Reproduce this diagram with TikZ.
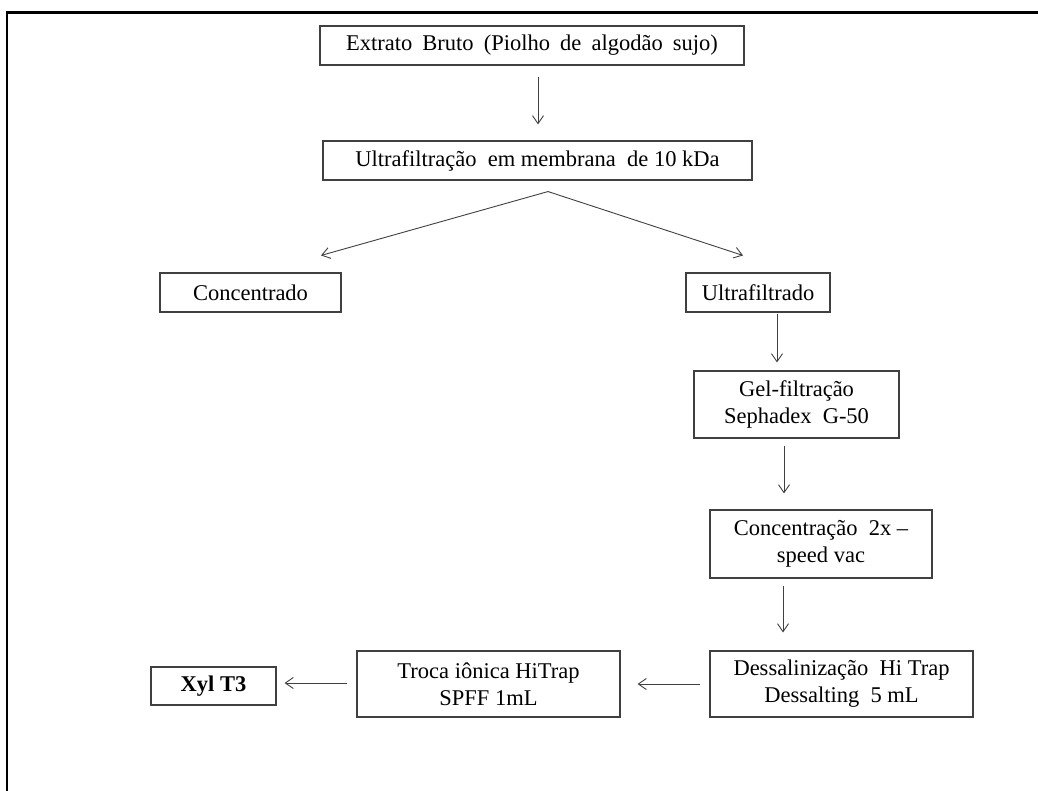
\documentclass[tikz,border=0pt]{standalone}
\usepackage{fontspec}
\setmainfont{Liberation Serif}
\usetikzlibrary{calc,arrows.meta}
\definecolor{boxgray}{HTML}{404040}
\tikzset{
  stepbox/.style={draw=boxgray, line width=1.1pt, inner sep=0pt, align=center,
    font=\fontsize{22.5}{27}\selectfont, text=black},
  arr/.style={draw=boxgray, line width=0.9pt, -{Straight Barb[length=8pt,width=11pt,line width=0.9pt]}},
}
\newcommand{\ws}{\hspace{0.45em}}
\begin{document}
\begin{tikzpicture}[x=1pt,y=-1pt]
\useasboundingbox (0,0) rectangle (1038,790);
\draw[line width=2.4pt] (7,795) -- (7,12.5) -- (1045,12.5);

\node[stepbox, minimum width=424pt, minimum height=39pt] (b1) at (532,45.5) {Extrato\ws Bruto\ws (Piolho\ws de\ws algodão\ws sujo)};
\node[stepbox, minimum width=429pt, minimum height=39pt] (b2) at (537.5,160.5) {Ultrafiltração \ em membrana \ de 10 kDa};
\node[stepbox, minimum width=181pt, minimum height=39pt] (conc) at (250.5,292.5) {Concentrado};
\node[stepbox, minimum width=144pt, minimum height=39pt] (uf) at (758,292.5) {Ultrafiltrado};
\node[stepbox, minimum width=205pt, minimum height=67pt] (gel) at (796.5,404.5) {Gel-filtração\\Sephadex \ G-50};
\node[stepbox, minimum width=222pt, minimum height=68pt] (cx) at (821,544) {Concentração \ 2x --\\speed vac};
\node[stepbox, minimum width=263pt, minimum height=66pt] (dess) at (841.5,684) {Dessalinização \ Hi Trap\\Dessalting \ 5 mL};
\node[stepbox, minimum width=263pt, minimum height=66pt] (troca) at (488.5,684) {Troca iônica HiTrap\\SPFF 1mL};
\node[stepbox, minimum width=125pt, minimum height=38pt, font=\fontsize{22.5}{27}\selectfont\bfseries] (xyl) at (213.5,686) {Xyl T3};

\draw[arr] ($(b1.south)+(6,11)$) -- ($(b2.north)+(0.5,-16)$);
\coordinate (apex) at ($(b2.south)+(10.5,11)$);
\draw[arr] (apex) -- ($(conc.north)+(70.5,-17)$);
\draw[arr] (apex) -- ($(uf.north)+(-15,-17)$);
\draw[arr] ($(uf.south)+(19,1)$) -- ($(gel.north)+(-19.5,-8)$);
\draw[arr] ($(gel.south)+(-12.5,7)$) -- ($(cx.north)+(-37,-16)$);
\draw[arr] ($(cx.south)+(-38,7)$) -- ($(dess.north)+(-58.5,-18)$);
\draw[arr] ($(dess.west)+(-9,0)$) -- ($(troca.east)+(17,0)$);
\draw[arr] ($(troca.west)+(-9,-1)$) -- ($(xyl.east)+(8,-3)$);
\end{tikzpicture}
\end{document}
